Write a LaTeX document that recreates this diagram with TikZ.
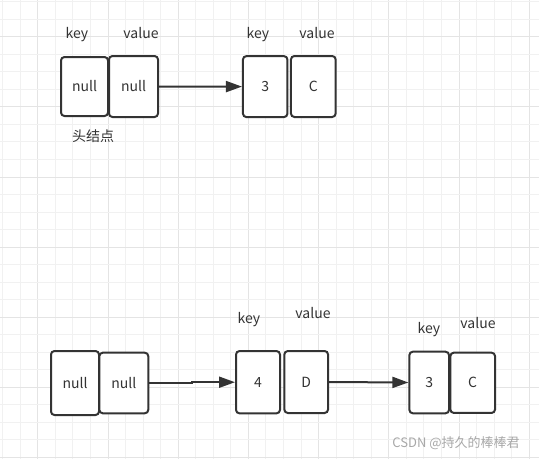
\documentclass[tikz,border=0pt]{standalone}
\usepackage{fontspec}
\setmainfont{Noto Sans CJK SC}
\usetikzlibrary{arrows.meta}
\definecolor{ink}{HTML}{333333}
\definecolor{gridminor}{HTML}{F1F1F1}
\definecolor{gridmajor}{HTML}{E4E4E4}
\definecolor{mark}{HTML}{A8A8A8}
\begin{document}
\begin{tikzpicture}[x=1pt,y=-1pt,
  cell/.style={draw=ink, line width=2pt, rounded corners=3.5pt, fill=white,
    inner sep=0pt, text=ink, font=\fontsize{14}{16}\selectfont},
  lbl/.style={text=ink, inner sep=0pt, font=\fontsize{14}{16}\selectfont},
  link/.style={draw=ink, line width=2pt, -{Triangle[length=16pt,width=11pt]}}]
\useasboundingbox[fill=white] (0,0) rectangle (539,459);
% grid
\foreach \k in {0,...,30}{
  \pgfmathtruncatemacro{\m}{mod(\k,4)}
  \ifnum\m=2 \def\gc{gridmajor}\else\def\gc{gridminor}\fi
  \draw[\gc, line width=1pt] ({2.7+17.55*\k},0) -- ({2.7+17.55*\k},459);
}
\foreach \k in {0,...,26}{
  \pgfmathtruncatemacro{\m}{mod(\k,4)}
  \ifnum\m=2 \def\gc{gridmajor}\else\def\gc{gridminor}\fi
  \draw[\gc, line width=1pt] (0,{1.8+17.52*\k}) -- (539,{1.8+17.52*\k});
}
% top row
\node[cell, minimum width=47pt, minimum height=59pt] (n1) at (84.5,86.5) {null};
\node[cell, minimum width=49pt, minimum height=61pt] (n2) at (133.5,86.5) {null};
\node[cell, minimum width=44.5pt, minimum height=61pt] (k3) at (265.2,86.6) {3};
\node[cell, minimum width=44.7pt, minimum height=61pt] (c3) at (313.3,86.5) {C};
\node[lbl] (tk1) at (77,35) {key};
\node[lbl] (tv1) at (141,33) {value};
\node[lbl] (tk2) at (258,35) {key};
\node[lbl] (tv2) at (317,33) {value};
\node[lbl] (head) at (93,136) {头结点};
\draw[link] (n2.east) -- (k3.west);
% bottom row
\node[cell, minimum width=48pt, minimum height=64pt] (m1) at (75,383) {null};
\node[cell, minimum width=49pt, minimum height=60.6pt] (m2) at (123.8,383) {null};
\node[cell, minimum width=44pt, minimum height=62.3pt] (k4) at (258,382.2) {4};
\node[cell, minimum width=43.7pt, minimum height=62pt] (d4) at (306.2,382) {D};
\node[cell, minimum width=39.7pt, minimum height=61.6pt] (k5) at (429.2,382.5) {3};
\node[cell, minimum width=44.7pt, minimum height=60.3pt] (c5) at (472.7,382.8) {C};
\node[lbl] (bk1) at (249,320) {key};
\node[lbl] (bv1) at (313,313) {value};
\node[lbl] (bk2) at (429,330) {key};
\node[lbl] (bv2) at (478,323) {value};
\draw[link] (m2.east) -- ++(43,0) |- (k4.west);
\draw[link] (d4.east) -- (k5.west);
% watermark
\node[text=mark, inner sep=0pt, font=\fontsize{13}{15}\selectfont] (wm) at (456,443) {CSDN @持久的棒棒君};
\end{tikzpicture}
\end{document}
